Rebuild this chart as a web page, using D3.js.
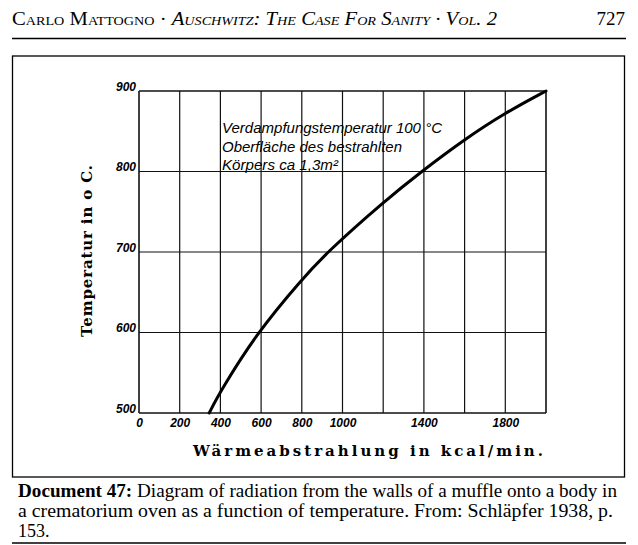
<!DOCTYPE html>
<html>
<head>
<meta charset="utf-8">
<script src="https://cdn.jsdelivr.net/npm/d3@7"></script>
<style>
  html, body { margin: 0; padding: 0; background: #fff; }
  svg { display: block; }
</style>
</head>
<body>
<svg id="chart" width="638" height="545"></svg>
<script>
// ---- Data ----
const radiation = [345, 400, 581, 800, 925, 1200, 1388, 1600, 1800, 2000];   // kcal/min
const temperature = [500, 527, 600, 666, 700, 762, 800, 840, 873, 900];     // °C
const xTickLabels = [0, 200, 400, 600, 800, 1000, 1400, 1800];
const yTickLabels = [500, 600, 700, 800, 900];
const xGrid = [0, 200, 400, 600, 800, 1000, 1200, 1400, 1600, 1800, 2000];
const yGrid = [500, 600, 700, 800, 900];
const annotation = ["Verdampfungstemperatur 100 °C", "Oberfläche des bestrahlten", "Körpers ca 1,3m²"];
const headerLeft = ["Carlo Mattogno · ", "Auschwitz: The Case For Sanity · Vol. 2"];
const pageNumber = "727";
const captionLines = [
  ["Document 47:", " Diagram of radiation from the walls of a muffle onto a body in"],
  ["", "a crematorium oven as a function of temperature. From: Schläpfer 1938, p."],
  ["", "153."]
];

const svg = d3.select("#chart");
const serif = "'Liberation Serif', 'Times New Roman', serif";
const wideSerif = "'DejaVu Serif', 'Liberation Serif', serif";
const hand = "'Liberation Sans', 'DejaVu Sans', sans-serif";

// ---- Header ----
const hdr = svg.append("text").attr("x", 12).attr("y", 25)
  .attr("font-family", serif).attr("font-size", 19).style("font-variant", "small-caps")
  .attr("textLength", 485).attr("lengthAdjust", "spacingAndGlyphs");
hdr.append("tspan").text(headerLeft[0]);
hdr.append("tspan").attr("font-style", "italic").text(headerLeft[1]);
svg.append("text").attr("x", 625).attr("y", 25).attr("text-anchor", "end")
  .attr("font-family", serif).attr("font-size", 19).text(pageNumber);
svg.append("line").attr("x1", 12).attr("x2", 626).attr("y1", 38.5).attr("y2", 38.5)
  .attr("stroke", "#000").attr("stroke-width", 1.3);

// ---- Frame ----
svg.append("rect").attr("x", 12.5).attr("y", 56).attr("width", 612).attr("height", 421)
  .attr("fill", "none").attr("stroke", "#000").attr("stroke-width", 1.3);

// ---- Scales ----
const x = d3.scaleLinear().domain([0, 2000]).range([139, 546]);
const y = d3.scaleLinear().domain([500, 900]).range([413, 91]);

// ---- Grid ----
const g = svg.append("g");
g.selectAll("line.v").data(xGrid).join("line").attr("class", "v")
  .attr("x1", d => x(d)).attr("x2", d => x(d)).attr("y1", y(900)).attr("y2", y(500))
  .attr("stroke", "#111").attr("stroke-width", d => (d === 0 || d === 2000) ? 1.6 : 1.2);
g.selectAll("line.h").data(yGrid).join("line").attr("class", "h")
  .attr("x1", x(0)).attr("x2", x(2000)).attr("y1", d => y(d)).attr("y2", d => y(d))
  .attr("stroke", "#111").attr("stroke-width", d => (d === 500 || d === 900) ? 1.6 : 1.2);

// ---- Axes (labels only) ----
const xAxis = svg.append("g").attr("transform", `translate(0,${y(500)})`)
  .call(d3.axisBottom(x).tickValues(xTickLabels).tickSize(0).tickPadding(5).tickFormat(d3.format("d")));
xAxis.select(".domain").remove();
xAxis.selectAll("text").attr("font-family", hand).attr("font-style", "italic")
  .attr("font-weight", "bold").attr("font-size", 12).attr("fill", "#000");

const yAxis = svg.append("g").attr("transform", `translate(${x(0)},0)`)
  .call(d3.axisLeft(y).tickValues(yTickLabels).tickSize(0).tickPadding(3).tickFormat(d3.format("d")));
yAxis.select(".domain").remove();
yAxis.selectAll("text").attr("font-family", hand).attr("font-style", "italic")
  .attr("font-weight", "bold").attr("font-size", 12).attr("fill", "#000").attr("dy", "-0.05em");

// ---- Curve ----
const pts = radiation.map((r, i) => [r, temperature[i]]);
svg.append("path").datum(pts)
  .attr("d", d3.line().x(d => x(d[0])).y(d => y(d[1])).curve(d3.curveBasis))
  .attr("fill", "none").attr("stroke", "#000").attr("stroke-width", 3).attr("stroke-linecap", "round");

// ---- Annotation ----
const annW = [220, 180, 116];
const annY = [133, 152, 170];
svg.selectAll("text.ann").data(annotation).join("text").attr("class", "ann")
  .attr("x", 222).attr("y", (d, i) => annY[i])
  .attr("font-family", hand).attr("font-style", "italic").attr("font-size", 14)
  .attr("textLength", (d, i) => annW[i]).attr("lengthAdjust", "spacingAndGlyphs")
  .attr("fill", "#000").text(d => d);

// ---- Axis titles ----
svg.append("text").attr("x", 193).attr("y", 456)
  .attr("font-family", wideSerif).attr("font-weight", "bold").attr("font-size", 15)
  .attr("textLength", 350).attr("lengthAdjust", "spacing")
  .text("Wärmeabstrahlung  in  kcal/min.");
svg.append("text").attr("transform", "translate(92,337) rotate(-90)")
  .attr("font-family", wideSerif).attr("font-weight", "bold").attr("font-size", 15)
  .attr("textLength", 172).attr("lengthAdjust", "spacing")
  .text("Temperatur  in  o C.");

// ---- Caption ----
const capY = [497, 517, 537];
const capW = [599, 595, null];
captionLines.forEach((ln, i) => {
  const t = svg.append("text").attr("x", 18).attr("y", capY[i])
    .attr("font-family", serif).attr("font-size", 18);
  if (capW[i]) t.attr("textLength", capW[i]).attr("lengthAdjust", "spacingAndGlyphs");
  if (ln[0]) t.append("tspan").attr("font-weight", "bold").text(ln[0]);
  t.append("tspan").text(ln[1]);
});
svg.append("line").attr("x1", 12).attr("x2", 626).attr("y1", 543).attr("y2", 543)
  .attr("stroke", "#000").attr("stroke-width", 1.3);
</script>
</body>
</html>
